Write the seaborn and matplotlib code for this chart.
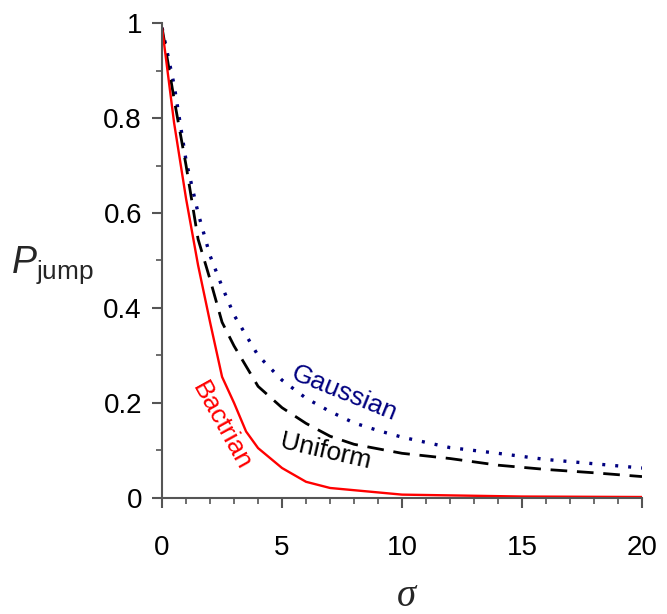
import numpy as np
import seaborn as sns
import matplotlib.pyplot as plt

# values
sigma_bactrian = [0, 0.5, 1, 1.5, 2, 2.5, 3, 3.5, 4, 5, 6, 7, 10, 15, 20]
p_bactrian = [0.99, 0.79, 0.63, 0.49, 0.37, 0.255, 0.2, 0.14, 0.105, 0.063, 0.034, 0.021, 0.007, 0.003, 0.002]

sigma_uniform = [0, 0.5, 1, 1.5, 2, 2.5, 3, 4, 5, 6, 7, 8, 10, 12, 14, 16, 18, 20]
p_uniform = [0.99, 0.84, 0.70, 0.545, 0.46, 0.37, 0.32, 0.235, 0.19, 0.157, 0.13, 0.113, 0.094, 0.083, 0.069, 0.06, 0.053, 0.045]

sigma_gauss = [0, 0.5, 1, 1.5, 2, 2.5, 3, 4, 5, 6, 7, 8, 9, 10, 12, 14, 16, 18, 20]
p_gauss = [0.99, 0.87, 0.71, 0.60, 0.51, 0.445, 0.385, 0.30, 0.248, 0.21, 0.182, 0.158, 0.142, 0.128, 0.106, 0.094, 0.081, 0.072, 0.063]

x_ticks = [0, 5, 10, 15, 20]
y_ticks = [0, 0.2, 0.4, 0.6, 0.8, 1]
y_tick_labels = ["0", "0.2", "0.4", "0.6", "0.8", "1"]

sns.set_style("ticks")
plt.rcParams['font.family'] = ['Liberation Sans', 'DejaVu Sans']
plt.rcParams['mathtext.fontset'] = 'custom'
plt.rcParams['mathtext.it'] = 'Liberation Sans:italic'
plt.rcParams['mathtext.rm'] = 'Liberation Sans'

fig = plt.figure(figsize=(6.67, 6.14), dpi=100)
ax = fig.add_axes([0.243, 0.189, 0.7195, 0.7735])

sns.lineplot(x=sigma_gauss, y=p_gauss, ax=ax, color='#000080', lw=2.4,
             linestyle=(0, (0.9, 3.0)))
sns.lineplot(x=sigma_uniform, y=p_uniform, ax=ax, color='black', lw=2,
             linestyle=(0, (6, 3.5)))
sns.lineplot(x=sigma_bactrian, y=p_bactrian, ax=ax, color='red', lw=1.7)

ax.set_xlim(0, 20)
ax.set_ylim(0, 1)
ax.set_xticks(x_ticks)
ax.set_xticks(np.arange(0, 21, 1), minor=True)
ax.set_yticks(y_ticks)
ax.set_yticklabels(y_tick_labels)
ax.set_yticks(np.arange(0, 1.01, 0.1), minor=True)

for s in ['top', 'right']:
    ax.spines[s].set_visible(False)
for s in ['left', 'bottom']:
    ax.spines[s].set_color('#555555')
    ax.spines[s].set_linewidth(1.5)

ax.tick_params(axis='both', which='major', length=7.5, width=1.5, color='#555555',
               labelsize=20, labelcolor='black')
ax.tick_params(axis='both', which='minor', length=4, width=1.2, color='#555555')
ax.tick_params(axis='x', which='major', pad=19)
ax.tick_params(axis='y', which='major', pad=7)

fig.text(406 / 667, 1 - 596 / 614, 'σ', fontsize=28, family='Liberation Serif',
         style='italic', ha='center', va='center')
fig.text(0.078, 0.568, r'$P_{\mathrm{jump}}$', fontsize=27, ha='center', va='center')

ax.text(7.6, 0.221, 'Gaussian', color='#000080', fontsize=19, rotation=-22,
        ha='center', va='center')
ax.text(6.8, 0.097, 'Uniform', color='black', fontsize=19, rotation=-13,
        ha='center', va='center')
ax.text(2.46, 0.152, 'Bactrian', color='red', fontsize=19, rotation=-61,
        ha='center', va='center')

fig.savefig('out.png', dpi=100)
